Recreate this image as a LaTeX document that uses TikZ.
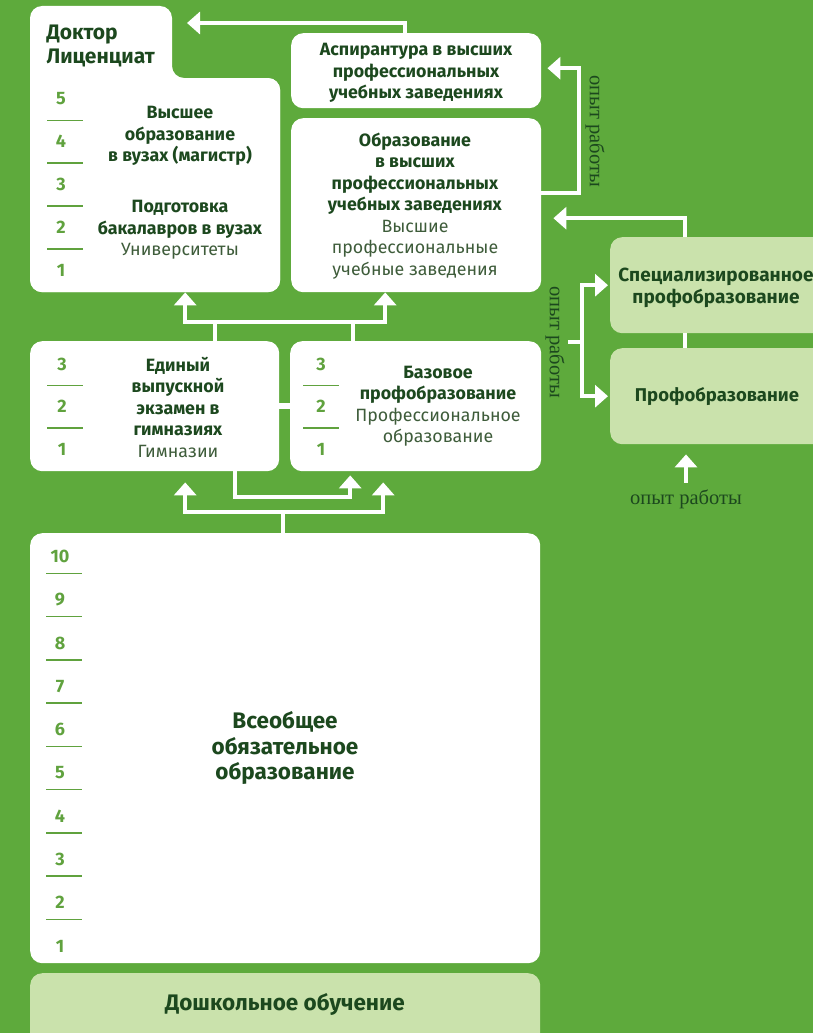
\documentclass[tikz,border=0pt]{standalone}
\usepackage{fontspec}
\setmainfont{Fira Sans}
\newfontfamily\workfont{Liberation Serif}
\usetikzlibrary{arrows.meta}

\definecolor{bgg}{RGB}{94,170,60}
\definecolor{paleg}{RGB}{202,226,172}
\definecolor{txtg}{RGB}{28,72,30}
\definecolor{subg}{RGB}{62,92,58}
\definecolor{numg}{RGB}{96,162,62}

\tikzset{
  panel/.style={fill=white, rounded corners=12pt, anchor=north west, inner sep=0pt},
  palepanel/.style={panel, fill=paleg},
  boxtext/.style={text=txtg, align=center, font=\fontsize{17.8}{21.5}\selectfont},
  boldtext/.style={boxtext, font=\bfseries\fontsize{17.8}{21.5}\selectfont},
  bigtext/.style={text=txtg, align=center, font=\bfseries\fontsize{22.5}{25.5}\selectfont},
  num/.style={text=numg, font=\bfseries\fontsize{18}{18}\selectfont},
  sep/.style={draw=numg, line width=1.6pt},
  arr/.style={draw=white, line width=4pt, -{Triangle[width=22pt,length=13pt]}},
  wline/.style={draw=white, line width=4pt},
  worktext/.style={text=txtg, font=\workfont\fontsize{20.5}{20.5}\selectfont},
}

\begin{document}
\begin{tikzpicture}[x=1pt,y=-1pt]
            % draw the background
            \fill[bgg] (0,0) rectangle (813,1033);
            \useasboundingbox (0,0) rectangle (813,1033);

            % university with the doctor tab
            \fill[white, rounded corners=12pt] (30,6) -- (172,6) -- (172,78) -- (280,78) -- (280,292) -- (30,292) -- cycle;
            \node[panel, minimum width=250pt, minimum height=214pt] (uni) at (30,78) {};
            \node[boxtext, anchor=west, align=left, font=\bfseries\fontsize{21}{24.5}\selectfont] (doc) at (43,46) {Доктор\\Лиценциат};
            \coordinate (doctip) at (187,23);
            \node[boldtext] (mag) at (180,136) {Высшее\\образование\\в вузах (магистр)};
            \node[boxtext] (bak) at (180,230) {\textbf{Подготовка}\\\textbf{бакалавров в вузах}\\{\color{subg}Университеты}};
            \foreach \n [count=\i from 0] in {5,4,3,2,1}
                \node[num] (uy\n) at (61,99+42.75*\i) {\n};
            \foreach \i in {0,...,3}
                \draw[sep] (47,120.5+42.75*\i) -- ++(36,0);

            % higher professional schools
            \node[panel, minimum width=250pt, minimum height=75pt] (asp) at (291,33) {};
            \node[boldtext] (asptext) at (416,73) {Аспирантура в высших\\профессиональных\\учебных заведениях};
            \node[panel, minimum width=250pt, minimum height=174pt] (obr) at (291,118) {};
            \node[boxtext] (obrtext) at (415,206) {\textbf{Образование}\\\textbf{в высших}\\\textbf{профессиональных}\\\textbf{учебных заведениях}\\{\color{subg}Высшие}\\{\color{subg}профессиональные}\\{\color{subg}учебные заведения}};

            % gymnasium and basic vocational
            \node[panel, minimum width=249pt, minimum height=130pt] (gym) at (30,341) {};
            \node[boxtext] (gymtext) at (178,407) {\textbf{Единый}\\\textbf{выпускной}\\\textbf{экзамен в}\\\textbf{гимназиях}\\{\color{subg}Гимназии}};
            \node[panel, minimum width=251pt, minimum height=130pt] (base) at (290,341) {};
            \node[boxtext] (basetext) at (438,406) {\textbf{Базовое}\\\textbf{профобразование}\\{\color{subg}Профессиональное}\\{\color{subg}образование}};
            \foreach \n [count=\i from 0] in {3,2,1} {
                \node[num] (gy\n) at (62,364+42.5*\i) {\n};
                \node[num] (by\n) at (321,364+42.5*\i) {\n};
            }
            \foreach \i in {0,1} {
                \draw[sep] (47,385.5+42.5*\i) -- ++(36,0);
                \draw[sep] (303,385.5+42.5*\i) -- ++(36,0);
            }

            % general compulsory school
            \node[panel, minimum width=510pt, minimum height=430pt] (gen) at (30,533) {};
            \node[bigtext] (gentext) at (285,748) {Всеобщее\\обязательное\\образование};
            \foreach \n [count=\i from 0] in {10,9,8,7,6,5,4,3,2,1}
                \node[num] (sy\n) at (60,556.7+43.25*\i) {\n};
            \foreach \i in {0,...,8}
                \draw[sep] (46,573.3+43.25*\i) -- ++(36,0);

            % preschool
            \node[palepanel, minimum width=510pt, minimum height=80pt] (pre) at (30,973) {};
            \node[bigtext] (pretext) at (285,1004) {Дошкольное обучение};

            % vocational on the right
            \node[palepanel, minimum width=215pt, minimum height=96pt] (spec) at (610,237) {};
            \node[boldtext, font=\bfseries\fontsize{19}{21.5}\selectfont] (spectext) at (716,288) {Специализированное\\профобразование};
            \node[palepanel, minimum width=215pt, minimum height=96pt] (prof) at (610,348) {};
            \node[boldtext, font=\bfseries\fontsize{18.5}{21.5}\selectfont] (proftext) at (717,397) {Профобразование};

            % work experience labels
            \node[worktext, rotate=-90] (work1) at (595,131) {опыт работы};
            \node[worktext, rotate=-90] (work2) at (555,342) {опыт работы};
            \node[worktext] (work3) at (686,499) {опыт работы};
            \coordinate (work3top) at (work3.north |- prof.south);

            % arrows between the upper levels
            \draw[arr] ([xshift=-11pt]asp.north) |- (doctip);
            \draw[arr] ([yshift=12pt]obr.east) -- ++(38,0) |- ([xshift=6pt,yshift=2.5pt]asp.east);
            \draw[arr] ([xshift=-32.5pt]spec.north) |- ([xshift=12pt,yshift=-13pt]obr.east);
            \draw[wline] ([xshift=-32.5pt]spec.south) -- ([xshift=-32.5pt]prof.north);
            \draw[arr] (work2.north) -- ++(14,0) |- ([xshift=-2pt]spec.west);
            \draw[arr] (work2.north) -- ++(14,0) |- ([xshift=-2pt]prof.west);
            \draw[arr] ([yshift=3pt]work3.north) -- ([yshift=-10pt]work3top);

            % gymnasium and vocational up to university
            \draw[arr] ([xshift=60.5pt]gym.north) -- ++(0,-19) -| ([xshift=30pt]uni.south);
            \draw[arr] ([xshift=60.5pt]gym.north) -- ++(0,-19) -| ([xshift=-31pt]obr.south);
            \draw[wline] ([xshift=-62.5pt]base.north) -- ++(0,-19);
            \draw[white, line width=6pt] (gym.east) -- (base.west);

            % school up to the next level
            \draw[arr] ([xshift=80.5pt]gym.south) -- ++(0,26) -| ([xshift=-65.5pt,yshift=-4pt]base.south);
            \draw[arr] ([xshift=-2pt]gen.north) -- ++(0,-21) -| ([xshift=30.5pt,yshift=-11pt]gym.south);
            \draw[arr] ([xshift=-2pt]gen.north) -- ++(0,-21) -| ([xshift=-32.5pt,yshift=-11pt]base.south);
\end{tikzpicture}
\end{document}
